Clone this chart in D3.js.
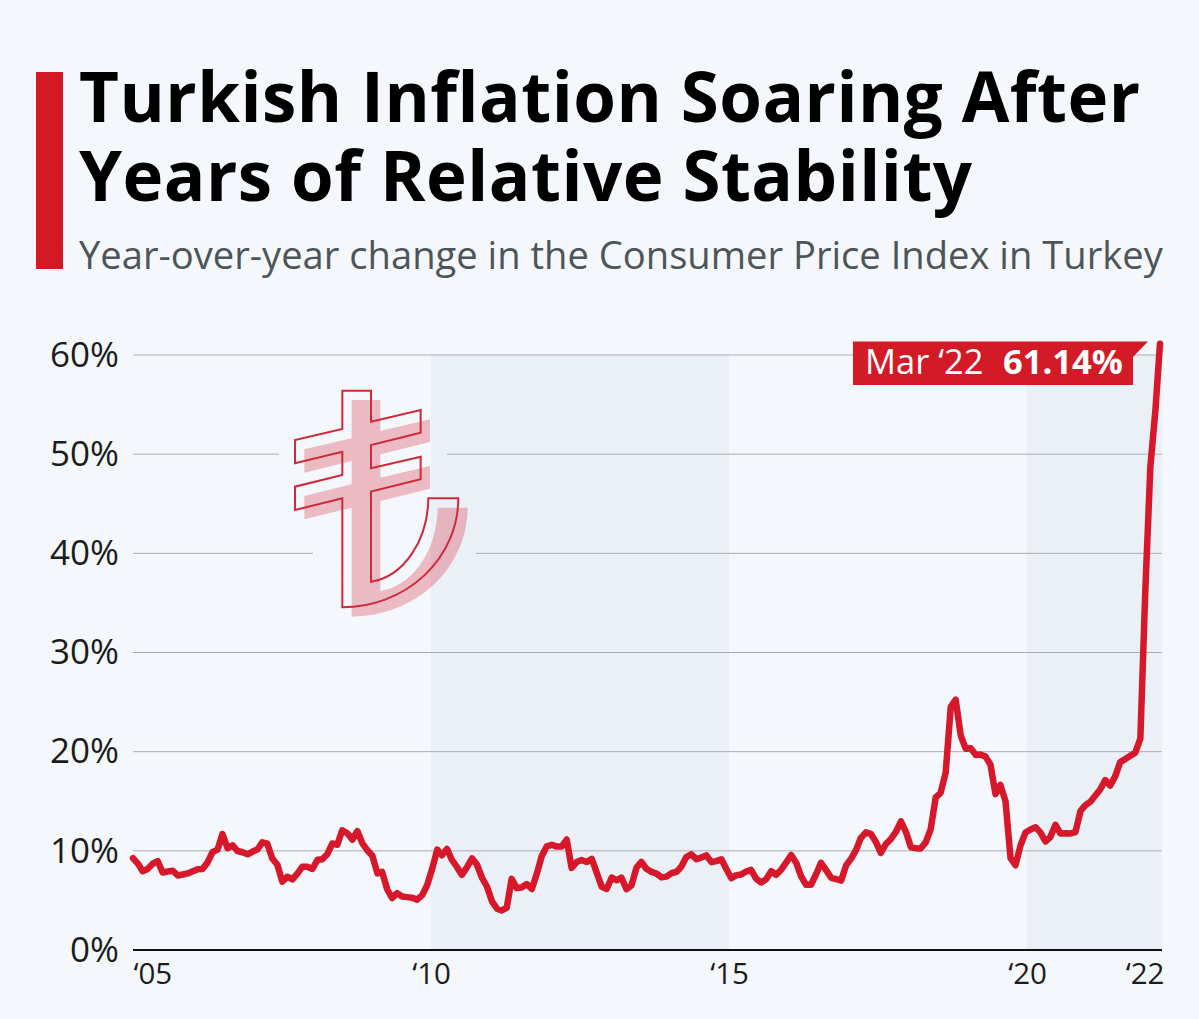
<!DOCTYPE html>
<html>
<head>
<meta charset="utf-8">
<script src="https://cdn.jsdelivr.net/npm/d3@7"></script>
<style>
  html, body { margin: 0; padding: 0; background: #f4f7fb; }
  svg { display: block; font-family: "Open Sans", sans-serif; }
</style>
</head>
<body>
<svg id="chart" width="1199" height="1019"></svg>
<script>
const titleLines = ['Turkish Inflation Soaring After', 'Years of Relative Stability'];
const subtitle = 'Year-over-year change in the Consumer Price Index in Turkey';

const yTicks = [0, 10, 20, 30, 40, 50, 60];
const xTickYears = [2005, 2010, 2015, 2020, 2022];
const xTickLabels = ['‘05', '‘10', '‘15', '‘20', '‘22'];
const shadedPeriods = [[2010, 2015], [2020, 2022.27]];
const calloutDate = 'Mar ‘22';
const calloutValue = '61.14%';

// monthly, Jan 2005 to Mar 2022
const cpi = [
  9.25, 8.69, 7.94, 8.18, 8.70, 8.95, 7.82, 7.91, 7.99, 7.52, 7.61, 7.72,
  7.93, 8.15, 8.16, 8.83, 9.86, 10.12, 11.69, 10.26, 10.55, 9.98, 9.86, 9.65,
  9.93, 10.16, 10.86, 10.72, 9.23, 8.60, 6.90, 7.39, 7.12, 7.70, 8.40, 8.39,
  8.17, 9.10, 9.15, 9.66, 10.74, 10.61, 12.06, 11.77, 11.13, 11.99, 10.76, 10.06,
  9.50, 7.73, 7.89, 6.13, 5.24, 5.73, 5.39, 5.33, 5.27, 5.08, 5.53, 6.53,
  8.19, 10.13, 9.56, 10.19, 9.10, 8.37, 7.58, 8.33, 9.24, 8.62, 7.29, 6.40,
  4.90, 4.16, 3.99, 4.26, 7.17, 6.24, 6.31, 6.65, 6.15, 7.66, 9.48, 10.45,
  10.61, 10.43, 10.43, 11.14, 8.28, 8.87, 9.07, 8.88, 9.19, 7.80, 6.37, 6.16,
  7.31, 7.03, 7.29, 6.13, 6.51, 8.30, 8.88, 8.17, 7.88, 7.71, 7.32, 7.40,
  7.75, 7.89, 8.39, 9.38, 9.66, 9.16, 9.32, 9.54, 8.86, 8.96, 9.15, 8.17,
  7.24, 7.55, 7.61, 7.91, 8.09, 7.20, 6.81, 7.14, 7.95, 7.58, 8.10, 8.81,
  9.58, 8.78, 7.46, 6.57, 6.58, 7.64, 8.79, 8.05, 7.28, 7.16, 7.00, 8.53,
  9.22, 10.13, 11.29, 11.87, 11.72, 10.90, 9.79, 10.68, 11.20, 11.90, 12.98, 11.92,
  10.35, 10.26, 10.23, 10.85, 12.15, 15.39, 15.85, 17.90, 24.52, 25.24, 21.62, 20.30,
  20.35, 19.67, 19.71, 19.50, 18.71, 15.72, 16.65, 15.01, 9.26, 8.55, 10.56, 11.84,
  12.15, 12.37, 11.86, 10.94, 11.39, 12.62, 11.76, 11.77, 11.75, 11.89, 14.03, 14.60,
  14.97, 15.61, 16.19, 17.14, 16.59, 17.53, 18.95, 19.25, 19.58, 19.89, 21.31, 36.08,
  48.69, 54.44, 61.14,
];

const RED = '#d6182a';
const plotLeft = 133;
const plotRight = 1162;

const svg = d3.select('#chart');

// header
svg.append('rect').attr('x', 36).attr('y', 72).attr('width', 27).attr('height', 197).attr('fill', '#d31a23');

svg.selectAll('.title')
  .data(titleLines)
  .join('text')
  .attr('class', 'title')
  .attr('x', 79)
  .attr('y', (d, i) => 122 + i * 79)
  .attr('font-size', 69)
  .attr('font-weight', 700)
  .attr('letter-spacing', 0.5)
  .attr('fill', '#000')
  .text((d) => d);

svg.append('text')
  .attr('x', 79)
  .attr('y', 269)
  .attr('font-size', 38.15)
  .attr('fill', '#4e5559')
  .text(subtitle);

const dates = cpi.map((d, i) => new Date(2005, i, 1));
const x = d3.scaleTime().domain([dates[0], dates[dates.length - 1]]).range([plotLeft, 1160]);
const y = d3.scaleLinear().domain([0, 60]).range([950, 355]);
// bands and year labels run on a slightly tighter grid than the line's months
const yearX = d3.scaleLinear().domain([2005, 2020]).range([plotLeft, 1027]);

// shaded periods
svg.append('g')
  .selectAll('rect')
  .data(shadedPeriods)
  .join('rect')
  .attr('x', (d) => yearX(d[0]))
  .attr('y', y(60))
  .attr('width', (d) => yearX(d[1]) - yearX(d[0]))
  .attr('height', y(0) - y(60))
  .attr('fill', '#ebf0f7');

// grid + y labels
const yAxis = svg.append('g')
  .attr('transform', `translate(${plotLeft},0)`)
  .call(d3.axisLeft(y).tickValues(yTicks).tickSize(0).tickPadding(14).tickFormat((d) => `${d}%`));
yAxis.select('.domain').remove();
yAxis.selectAll('text')
  .attr('font-size', 35)
  .attr('font-family', '"Open Sans", sans-serif')
  .attr('fill', '#1c1c1c');

// the lira sign sits in a gap cut out of the 40 and 50 lines
const gridGaps = { 50: [279, 447], 40: [313, 476] };
const gridSegments = yTicks.filter((d) => d > 0).flatMap((d) => {
  const gap = gridGaps[d];
  return gap
    ? [{ v: d, x1: plotLeft, x2: gap[0] }, { v: d, x1: gap[1], x2: plotRight }]
    : [{ v: d, x1: plotLeft, x2: plotRight }];
});
svg.append('g')
  .selectAll('line')
  .data(gridSegments)
  .join('line')
  .attr('x1', (d) => d.x1)
  .attr('x2', (d) => d.x2)
  .attr('y1', (d) => y(d.v))
  .attr('y2', (d) => y(d.v))
  .attr('stroke', '#a9adb3')
  .attr('stroke-width', 1);

// lira sign, drawn in 3x units
const liraPath = 'M217,62 L303,62 L303,155 L452,120 L452,188 L303,225 L303,295 L452,260 L452,328 L303,365 '
  + 'L303,635 A195,255 0 0 0 475,385 L565,385 A348,327 0 0 1 217,712 L217,385 L75,420 L75,350 L217,315 '
  + 'L217,245 L75,280 L75,210 L217,177 Z';
const lira = svg.append('g').attr('transform', 'translate(270,370) scale(0.3333)');
lira.append('path')
  .attr('d', liraPath)
  .attr('transform', 'translate(28,28)')
  .attr('fill', '#d6182a')
  .attr('fill-opacity', 0.27);
lira.append('path')
  .attr('d', liraPath)
  .attr('fill', 'none')
  .attr('stroke', '#cf2a38')
  .attr('stroke-width', 6);

// baseline + x labels
const xAxis = svg.append('g')
  .attr('transform', `translate(0,${y(0)})`)
  .call(d3.axisBottom(yearX)
    .tickValues(xTickYears)
    .tickSize(0)
    .tickPadding(13)
    .tickFormat((d, i) => xTickLabels[i]));
xAxis.select('.domain').remove();
xAxis.selectAll('.tick text')
  .attr('font-size', 29.5)
  .attr('font-family', '"Open Sans", sans-serif')
  .attr('fill', '#1c1c1c')
  .attr('text-anchor', (d, i) => (i === 0 ? 'start' : 'middle'));
// last label is pinned to the plot's right edge rather than its date
xAxis.selectAll('.tick').filter((d, i) => i === xTickYears.length - 1)
  .attr('transform', 'translate(1145,0)');
svg.append('line')
  .attr('x1', plotLeft)
  .attr('x2', plotRight)
  .attr('y1', y(0))
  .attr('y2', y(0))
  .attr('stroke', '#111')
  .attr('stroke-width', 2);

// series
const line = d3.line().x((d, i) => x(dates[i])).y((d) => y(d));
svg.append('path')
  .datum(cpi)
  .attr('d', line)
  .attr('fill', 'none')
  .attr('stroke', RED)
  .attr('stroke-width', 6.5)
  .attr('stroke-linejoin', 'round')
  .attr('stroke-linecap', 'round');

// callout
svg.append('path')
  .attr('d', 'M853,341.5 L1148,341.5 L1133,357 L1133,385 L853,385 Z')
  .attr('fill', '#d31a27');
const callout = svg.append('text')
  .attr('x', 865)
  .attr('y', 374)
  .attr('font-size', 34.5)
  .attr('fill', '#fff');
callout.append('tspan').text(calloutDate);
callout.append('tspan').attr('x', 1003).attr('font-weight', 700).text(calloutValue);
</script>
</body>
</html>
